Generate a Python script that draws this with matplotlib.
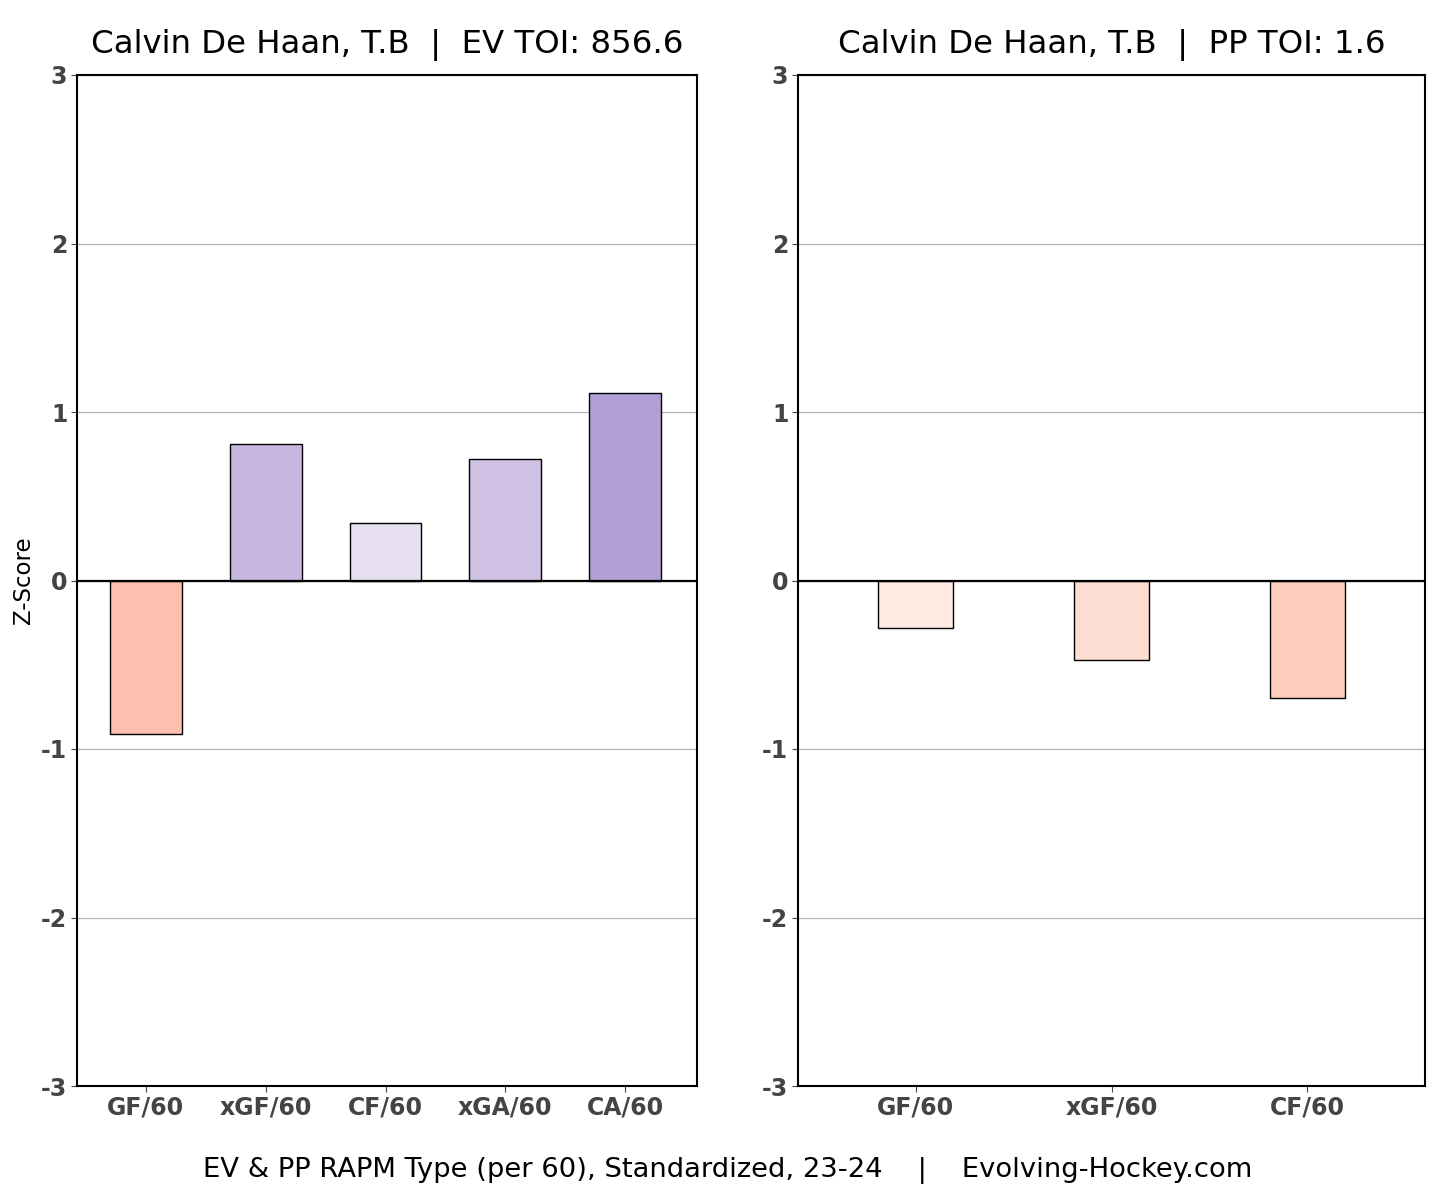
import matplotlib
matplotlib.use("Agg")
import matplotlib.pyplot as plt

ev_labels = ["GF/60", "xGF/60", "CF/60", "xGA/60", "CA/60"]
ev_values = [-0.91, 0.81, 0.34, 0.72, 1.11]
ev_colors = ["#FDBFAE", "#C7B7E0", "#E7E0F1", "#CFC1E4", "#B29FD5"]

pp_labels = ["GF/60", "xGF/60", "CF/60"]
pp_values = [-0.28, -0.47, -0.70]
pp_colors = ["#FEE9E3", "#FEDDD3", "#FDCDBC"]

yticks = [-3, -2, -1, 0, 1, 2, 3]

fig = plt.figure(figsize=(14.56, 11.99), dpi=100)
ax1 = fig.add_axes([77/1456, 1 - 1086/1199, 620/1456, 1011/1199])
ax2 = fig.add_axes([798/1456, 1 - 1086/1199, 627/1456, 1011/1199])

def draw(ax, labels, values, colors, width, xlim, title):
    x = list(range(len(labels)))
    ax.set_axisbelow(True)
    ax.yaxis.grid(True, color="#b3b3b3", lw=0.9)
    ax.bar(x, values, width=width, color=colors, edgecolor="black", lw=1.0, zorder=2)
    ax.axhline(0, color="black", lw=1.6, zorder=3)
    ax.set_ylim(-3, 3)
    ax.set_xlim(*xlim)
    ax.set_yticks(yticks)
    ax.set_yticklabels([str(t) for t in yticks])
    ax.set_xticks(x)
    ax.set_xticklabels(labels)
    for lab in ax.get_xticklabels() + ax.get_yticklabels():
        lab.set_fontweight("bold")
        lab.set_color("#444444")
        lab.set_fontsize(17)
    ax.tick_params(axis="both", length=4, color="#444444", pad=3)
    for s in ax.spines.values():
        s.set_linewidth(1.5)
        s.set_color("black")
    ax.set_title(title, fontsize=23.3, pad=16)

draw(ax1, ev_labels, ev_values, ev_colors, 0.6, (-0.575, 4.6),
     "Calvin De Haan, T.B  |  EV TOI: 856.6")
draw(ax2, pp_labels, pp_values, pp_colors, 0.38, (-0.6, 2.6),
     "Calvin De Haan, T.B  |  PP TOI: 1.6")
ax1.set_ylabel("Z-Score", fontsize=16.5, labelpad=4)

fig.text(0.5, 1 - 1170/1199, "EV & PP RAPM Type (per 60), Standardized, 23-24    |    Evolving-Hockey.com",
         ha="center", va="center", fontsize=19.7)

fig.savefig("out.png", dpi=100, facecolor="white")
